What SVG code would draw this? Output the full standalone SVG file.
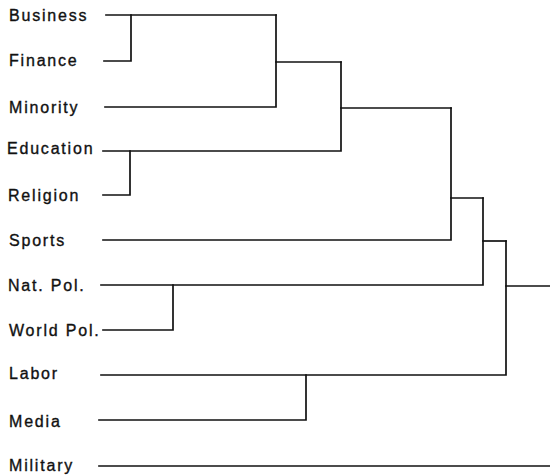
<svg xmlns="http://www.w3.org/2000/svg" width="550" height="476" viewBox="0 0 550 476">
  <style>
    .lbl { font-family: "Liberation Sans", Arial, sans-serif; font-size: 16px; letter-spacing: 1.8px; fill: #111; stroke: #111; stroke-width: 0.35; }
    .cn { fill: none; stroke: #111; stroke-width: 1.7; stroke-linecap: square; stroke-linejoin: miter; }
  </style>
  <rect width="550" height="476" fill="#fff"/>

  <!-- leaf labels -->
  <g id="business"><text class="lbl" x="9" y="21">Business</text></g>
  <g id="finance"><text class="lbl" x="9" y="66">Finance</text></g>
  <g id="minority"><text class="lbl" x="9" y="112.5">Minority</text></g>
  <g id="education"><text class="lbl" x="7" y="154">Education</text></g>
  <g id="religion"><text class="lbl" x="8" y="200.5">Religion</text></g>
  <g id="sports"><text class="lbl" x="9" y="246">Sports</text></g>
  <g id="natpol"><text class="lbl" x="8" y="290.5">Nat. Pol.</text></g>
  <g id="worldpol"><text class="lbl" x="9" y="336">World Pol.</text></g>
  <g id="labor"><text class="lbl" x="9" y="379">Labor</text></g>
  <g id="media"><text class="lbl" x="9" y="426.5">Media</text></g>
  <g id="military"><text class="lbl" x="9" y="471">Military</text></g>

  <!-- dendrogram branches -->
  <g id="connectors" class="cn">
    <!-- Business + Finance -->
    <path d="M106 15 H276"/>
    <path d="M104 61 H131 V15"/>
    <!-- + Minority -->
    <path d="M105 107 H276 V15"/>
    <path d="M276 62 H341"/>
    <!-- Education + Religion -->
    <path d="M103 151 H341 V62"/>
    <path d="M103 195 H130 V151"/>
    <path d="M341 108 H451"/>
    <!-- + Sports -->
    <path d="M103 240 H451 V108"/>
    <path d="M451 198 H483"/>
    <!-- Nat. Pol. + World Pol. -->
    <path d="M101 285 H483 V198"/>
    <path d="M103 330 H173 V285"/>
    <path d="M483 241 H506"/>
    <!-- Labor + Media -->
    <path d="M101 375 H506 V241"/>
    <path d="M99 420 H306 V375"/>
    <path d="M506 286 H550"/>
    <!-- Military -->
    <path d="M99 466 H550"/>
  </g>
</svg>
